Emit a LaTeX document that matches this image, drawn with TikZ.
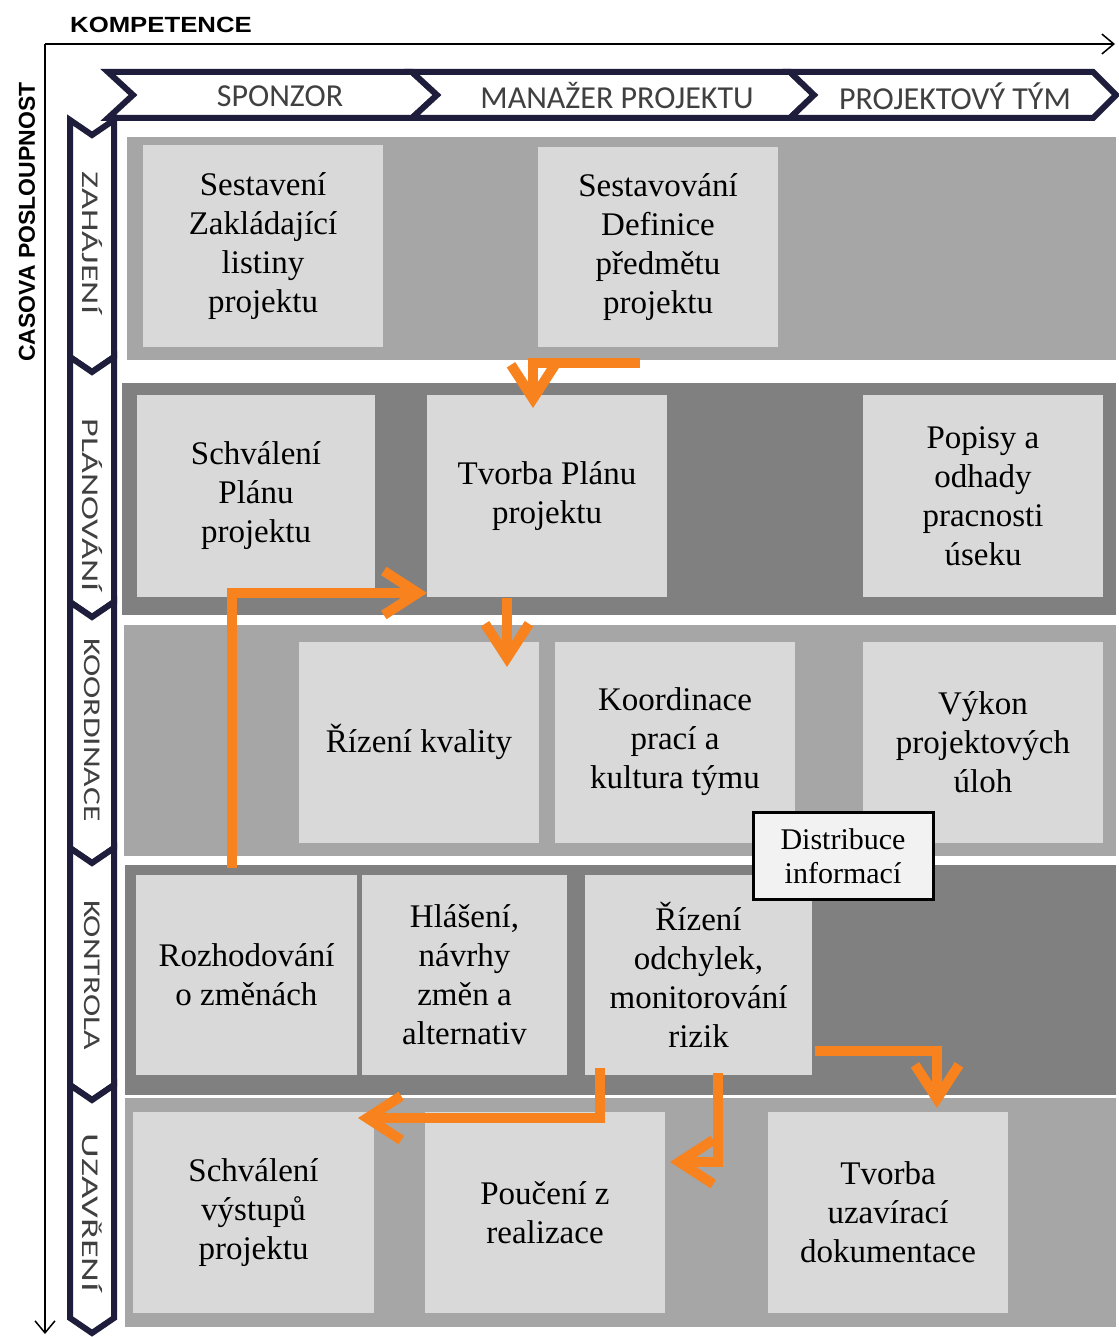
\documentclass[tikz,border=0pt]{standalone}
\usepackage{fontspec}
\setmainfont{Liberation Serif}
\newfontfamily\hdrfont{Carlito}
\newfontfamily\axfont{Liberation Sans}
\usetikzlibrary{arrows.meta}
\definecolor{bandL}{HTML}{A6A6A6}
\definecolor{bandD}{HTML}{808080}
\definecolor{boxc}{HTML}{D9D9D9}
\definecolor{navy}{HTML}{1E1E3C}
\definecolor{org}{HTML}{F7821E}
\definecolor{lbl}{HTML}{404040}
\definecolor{distc}{HTML}{F2F2F2}
\begin{document}
\begin{tikzpicture}[x=1pt,y=-1pt,
  act/.style={fill=boxc, draw=none, inner sep=0pt, align=center,
    font=\fontsize{33}{39}\selectfont, text=black},
  band/.style={draw=none},
  chev/.style={fill=white, draw=navy, line width=6pt, line join=miter},
  vchev/.style={fill=white, draw=navy, line width=6pt, line join=miter},
  hdr/.style={font=\hdrfont\fontsize{32}{36}\selectfont, text=lbl, inner sep=0pt},
  vlbl/.style={font=\hdrfont\fontsize{24}{28}\selectfont, text=lbl, inner sep=0pt, rotate=-90},
  axis/.style={line width=1.5pt, -{Straight Barb[length=12pt,width=20pt]}},
  oarrow/.style={draw=org, line width=10pt, line join=miter,
    -{Straight Barb[length=34pt,width=44pt]}},
  ]
\useasboundingbox (0,0) rectangle (1118,1337);
\fill[white] (0,0) rectangle (1118,1337);

% axes
\coordinate (origin) at (45,44);
\coordinate (xend) at (1115,44);
\coordinate (yend) at (45,1334);
\draw[axis] (origin) -- (xend);
\draw[axis] (origin) -- (yend);
\node[font=\axfont\bfseries\fontsize{22}{26}\selectfont, inner sep=0pt] (komp) at (161,25) {\scalebox{1.17}[1]{KOMPETENCE}};
\node[font=\axfont\bfseries\fontsize{23}{26}\selectfont, inner sep=0pt, rotate=90] (cas) at (27,222) {CASOVA POSLOUPNOST};

% bands
\fill[bandL] (127,137) rectangle (1116,360);
\fill[bandD] (122,383) rectangle (1116,615);
\fill[bandL] (124,625) rectangle (1116,856);
\fill[bandD] (125,865) rectangle (1116,1095);
\fill[bandL] (125,1098) rectangle (1116,1327);

% top chevrons
\draw[chev] (108,72) -- (412,72) -- (437,95) -- (412,118) -- (108,118) -- (133,95) -- cycle;
\draw[chev] (412,72) -- (790,72) -- (814,95) -- (790,118) -- (412,118) -- (437,95) -- cycle;
\draw[chev] (790,72) -- (1093,72) -- (1116,95) -- (1093,118) -- (790,118) -- (814,95) -- cycle;
\node[hdr] (sponzor) at (280,96) {SPONZOR};
\node[hdr] (manazer) at (617,96) {MANAŽER PROJEKTU};
\node[hdr] (tym) at (955,96) {PROJEKTOVÝ TÝM};

% vertical chevrons
\foreach \yt/\yb in {120/357, 357/602, 602/848, 848/1085, 1085/1318}{
  \draw[vchev] (70,\yt) -- (92,\yt+15) -- (114,\yt) -- (114,\yb) -- (92,\yb+15) -- (70,\yb) -- cycle;
}
\node[vlbl] (zah) at (92,243) {\scalebox{1.5}[1]{ZAHÁJENÍ}};
\node[vlbl] (plan) at (92,505) {\scalebox{1.5}[1]{PLÁNOVÁNÍ}};
\node[vlbl] (koord) at (92,730) {\scalebox{1.4}[1]{KOORDINACE}};
\node[vlbl] (kontr) at (92,975) {\scalebox{1.4}[1]{KONTROLA}};
\node[vlbl] (uzav) at (92,1213) {\scalebox{1.6}[1]{UZAVŘENÍ}};

% activity boxes
\node[act, minimum width=240pt, minimum height=202pt] (A) at (263,246) {Sestavení\\Zakládající\\listiny\\projektu};
\node[act, minimum width=240pt, minimum height=200pt] (B) at (658,247) {Sestavování\\Definice\\předmětu\\projektu};
\node[act, minimum width=238pt, minimum height=202pt] (C) at (256,496) {Schválení\\Plánu\\projektu};
\node[act, minimum width=240pt, minimum height=202pt] (D) at (547,496) {Tvorba Plánu\\projektu};
\node[act, minimum width=240pt, minimum height=202pt] (E) at (983,496) {Popisy a\\odhady\\pracnosti\\úseku};
\node[act, minimum width=240pt, minimum height=201pt] (F) at (419,742) {Řízení kvality};
\node[act, minimum width=240pt, minimum height=201pt] (G) at (675,742) {Koordinace\\prací a\\kultura týmu};
\node[act, minimum width=240pt, minimum height=201pt] (H) at (983,742) {Výkon\\projektových\\úloh};
\node[act, minimum width=221pt, minimum height=200pt] (I) at (246.5,975) {Rozhodování\\o změnách};
\node[act, minimum width=205pt, minimum height=200pt] (J) at (464.5,975) {Hlášení,\\návrhy\\změn a\\alternativ};
\node[act, minimum width=227pt, minimum height=200pt] (K) at (698.5,975) {Řízení\\odchylek,\\monitorování\\rizik};
\node[act, minimum width=241pt, minimum height=201pt] (L) at (253.5,1212.5) {Schválení\\výstupů\\projektu};
\node[act, minimum width=240pt, minimum height=201pt] (M) at (545,1212.5) {Poučení z\\realizace};
\node[act, minimum width=240pt, minimum height=201pt] (N) at (888,1212.5) {Tvorba\\uzavírací\\dokumentace};

\node[draw=black, line width=3pt, fill=distc, minimum width=180pt, minimum height=87pt,
  inner sep=0pt, align=center, font=\fontsize{30}{34}\selectfont] (dist) at (843,856) {Distribuce\\informací};

% orange arrows
\coordinate (a1s) at (640,363);
\coordinate (a1e) at (533,408);
\draw[oarrow] (a1s) -| (a1e);
\coordinate (a2s) at (232,868);
\coordinate (a2e) at (427,593);
\draw[oarrow] (a2s) |- (a2e);
\coordinate (a3s) at (507,598);
\coordinate (a3e) at (507,667);
\draw[oarrow] (a3s) -- (a3e);
\coordinate (a4s) at (600,1068);
\coordinate (a4m) at (600,1118);
\coordinate (a4e) at (358,1118);
\draw[oarrow] (a4s) -- (a4m) -- (a4e);
\coordinate (a5s) at (718,1073);
\coordinate (a5e) at (670,1162);
\draw[oarrow] (a5s) |- (a5e);
\coordinate (a6s) at (815,1051);
\coordinate (a6e) at (937,1108);
\draw[oarrow] (a6s) -| (a6e);
\end{tikzpicture}
\end{document}
